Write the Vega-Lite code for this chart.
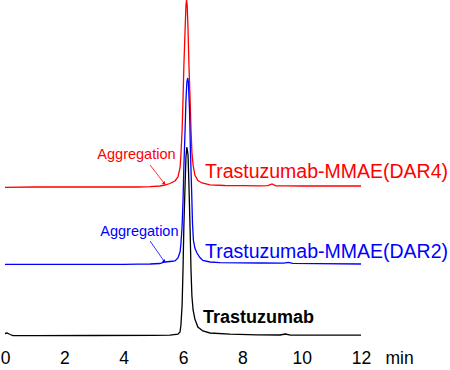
{
  "$schema": "https://vega.github.io/schema/vega-lite/v6.json",
  "autosize": "none",
  "width": 356,
  "height": 336,
  "padding": {"left": 5, "right": 89, "top": 0, "bottom": 34},
  "background": "white",
  "config": {"view": {"stroke": null}, "font": "Liberation Sans"},
  "datasets": {
    "traces": [
      {"s":"DAR4","t":0,"v":148.7},{"s":"DAR4","t":1,"v":149},{"s":"DAR4","t":2,"v":149},{"s":"DAR4","t":3,"v":149},{"s":"DAR4","t":4,"v":149},{"s":"DAR4","t":4.5,"v":149},{"s":"DAR4","t":4.89,"v":149.3},{"s":"DAR4","t":5.22,"v":150},{"s":"DAR4","t":5.39,"v":151},{"s":"DAR4","t":5.56,"v":152.5},{"s":"DAR4","t":5.73,"v":155},{"s":"DAR4","t":5.83,"v":159},{"s":"DAR4","t":5.9,"v":168},{"s":"DAR4","t":5.93,"v":181},{"s":"DAR4","t":5.97,"v":206},{"s":"DAR4","t":6.0,"v":236},{"s":"DAR4","t":6.03,"v":271},{"s":"DAR4","t":6.07,"v":306},{"s":"DAR4","t":6.1,"v":331},{"s":"DAR4","t":6.12,"v":336},{"s":"DAR4","t":6.14,"v":331},{"s":"DAR4","t":6.17,"v":306},{"s":"DAR4","t":6.2,"v":271},{"s":"DAR4","t":6.24,"v":236},{"s":"DAR4","t":6.27,"v":206},{"s":"DAR4","t":6.3,"v":184},{"s":"DAR4","t":6.34,"v":171},{"s":"DAR4","t":6.4,"v":161},{"s":"DAR4","t":6.5,"v":155.5},{"s":"DAR4","t":6.64,"v":153},{"s":"DAR4","t":6.91,"v":151.2},{"s":"DAR4","t":7.41,"v":150.5},{"s":"DAR4","t":8.0,"v":150.3},{"s":"DAR4","t":8.6,"v":150.2},{"s":"DAR4","t":8.86,"v":150.3},{"s":"DAR4","t":9.0,"v":152},{"s":"DAR4","t":9.13,"v":150.2},{"s":"DAR4","t":9.5,"v":150.1},{"s":"DAR4","t":10,"v":150},{"s":"DAR4","t":11,"v":150},{"s":"DAR4","t":12,"v":150},
      {"s":"DAR2","t":0,"v":71.7},{"s":"DAR2","t":1,"v":71.7},{"s":"DAR2","t":2,"v":71.7},{"s":"DAR2","t":3,"v":71.7},{"s":"DAR2","t":4,"v":71.7},{"s":"DAR2","t":4.5,"v":71.8},{"s":"DAR2","t":4.89,"v":72},{"s":"DAR2","t":5.22,"v":72.5},{"s":"DAR2","t":5.39,"v":74},{"s":"DAR2","t":5.56,"v":74.5},{"s":"DAR2","t":5.73,"v":75},{"s":"DAR2","t":5.83,"v":78},{"s":"DAR2","t":5.9,"v":84},{"s":"DAR2","t":5.93,"v":92},{"s":"DAR2","t":5.97,"v":110},{"s":"DAR2","t":6.0,"v":135},{"s":"DAR2","t":6.03,"v":170},{"s":"DAR2","t":6.07,"v":206},{"s":"DAR2","t":6.1,"v":236},{"s":"DAR2","t":6.13,"v":254},{"s":"DAR2","t":6.16,"v":258},{"s":"DAR2","t":6.18,"v":254},{"s":"DAR2","t":6.22,"v":226},{"s":"DAR2","t":6.25,"v":186},{"s":"DAR2","t":6.29,"v":146},{"s":"DAR2","t":6.32,"v":113},{"s":"DAR2","t":6.35,"v":96},{"s":"DAR2","t":6.4,"v":88},{"s":"DAR2","t":6.47,"v":83},{"s":"DAR2","t":6.57,"v":78.5},{"s":"DAR2","t":6.67,"v":75.5},{"s":"DAR2","t":6.91,"v":74},{"s":"DAR2","t":7.25,"v":73.3},{"s":"DAR2","t":8.59,"v":73},{"s":"DAR2","t":9.4,"v":72.8},{"s":"DAR2","t":9.55,"v":73.6},{"s":"DAR2","t":9.7,"v":72.7},{"s":"DAR2","t":10.5,"v":72.4},{"s":"DAR2","t":12,"v":72},
      {"s":"Trastuzumab","t":0,"v":2.5},{"s":"Trastuzumab","t":0.07,"v":3},{"s":"Trastuzumab","t":0.17,"v":1.5},{"s":"Trastuzumab","t":0.27,"v":0.3},{"s":"Trastuzumab","t":1,"v":0.3},{"s":"Trastuzumab","t":3,"v":0.5},{"s":"Trastuzumab","t":5,"v":0.7},{"s":"Trastuzumab","t":5.56,"v":0.8},{"s":"Trastuzumab","t":5.83,"v":1.8},{"s":"Trastuzumab","t":5.9,"v":4},{"s":"Trastuzumab","t":5.93,"v":11},{"s":"Trastuzumab","t":5.97,"v":31},{"s":"Trastuzumab","t":6.0,"v":66},{"s":"Trastuzumab","t":6.03,"v":111},{"s":"Trastuzumab","t":6.07,"v":151},{"s":"Trastuzumab","t":6.1,"v":179},{"s":"Trastuzumab","t":6.13,"v":189},{"s":"Trastuzumab","t":6.17,"v":181},{"s":"Trastuzumab","t":6.2,"v":151},{"s":"Trastuzumab","t":6.24,"v":106},{"s":"Trastuzumab","t":6.27,"v":66},{"s":"Trastuzumab","t":6.3,"v":40},{"s":"Trastuzumab","t":6.34,"v":26},{"s":"Trastuzumab","t":6.4,"v":17},{"s":"Trastuzumab","t":6.5,"v":9},{"s":"Trastuzumab","t":6.67,"v":5},{"s":"Trastuzumab","t":6.91,"v":3},{"s":"Trastuzumab","t":7.58,"v":1.8},{"s":"Trastuzumab","t":8.5,"v":1.2},{"s":"Trastuzumab","t":9.27,"v":1.0},{"s":"Trastuzumab","t":9.45,"v":2.0},{"s":"Trastuzumab","t":9.62,"v":0.9},{"s":"Trastuzumab","t":10.5,"v":0.9},{"s":"Trastuzumab","t":12,"v":0.8}
    ],
    "arrows": [
      {"s":"DAR4","t":4.89,"v":171},{"s":"DAR4","t":5.37,"v":152.5},
      {"s":"DAR2","t":4.89,"v":95},{"s":"DAR2","t":5.37,"v":74.5}
    ],
    "heads": [
      {"s":"DAR4","t":5.37,"v":152.5},
      {"s":"DAR2","t":5.37,"v":74.5}
    ],
    "agg": [
      {"s":"DAR4","t":4.43,"v":181,"label":"Aggregation"},
      {"s":"DAR2","t":4.53,"v":104,"label":"Aggregation"}
    ],
    "names": [
      {"s":"DAR4","t":6.74,"v":164,"label":"Trastuzumab-MMAE(DAR4)"},
      {"s":"DAR2","t":6.74,"v":84,"label":"Trastuzumab-MMAE(DAR2)"}
    ],
    "bold": [
      {"s":"Trastuzumab","t":6.67,"v":18,"label":"Trastuzumab"}
    ]
  },
  "encoding": {
    "x": {"field":"t","type":"quantitative","scale":{"domain":[0,12],"nice":false,"zero":false},
      "axis":{"values":[0,2,4,6,8,10,12],"domain":false,"ticks":false,"tickSize":0,"grid":false,
        "labelFontSize":17.5,"labelColor":"black","labelBaseline":"alphabetic","labelPadding":27,"labelFlush":false,
        "title":"min","titleFontSize":17.5,"titleFontWeight":"normal","titleColor":"black","titleAlign":"left","titleAnchor":"start","titleBaseline":"alphabetic","titleX":380,"titleY":27}},
    "y": {"field":"v","type":"quantitative","scale":{"domain":[0,336],"nice":false,"zero":false},"axis":null},
    "color": {"field":"s","type":"nominal","scale":{"domain":["DAR4","DAR2","Trastuzumab"],"range":["#ff0000","#0000ff","#000000"]},"legend":null}
  },
  "layer": [
    {"data":{"name":"traces"},"mark":{"type":"line","strokeWidth":1.3,"clip":false},"encoding":{"detail":{"field":"s"}}},
    {"data":{"name":"arrows"},"mark":{"type":"line","strokeWidth":0.8},"encoding":{"detail":{"field":"s"}}},
    {"data":{"name":"heads"},"mark":{"type":"point","shape":"triangle-up","filled":true,"size":14,"angle":141,"opacity":1}},
    {"data":{"name":"agg"},"mark":{"type":"text","fontSize":14.5,"align":"center","baseline":"middle"},"encoding":{"text":{"field":"label"}}},
    {"data":{"name":"names"},"mark":{"type":"text","fontSize":19.5,"align":"left","baseline":"middle"},"encoding":{"text":{"field":"label"}}},
    {"data":{"name":"bold"},"mark":{"type":"text","fontSize":18,"fontWeight":"bold","align":"left","baseline":"middle"},"encoding":{"text":{"field":"label"}}}
  ]
}
